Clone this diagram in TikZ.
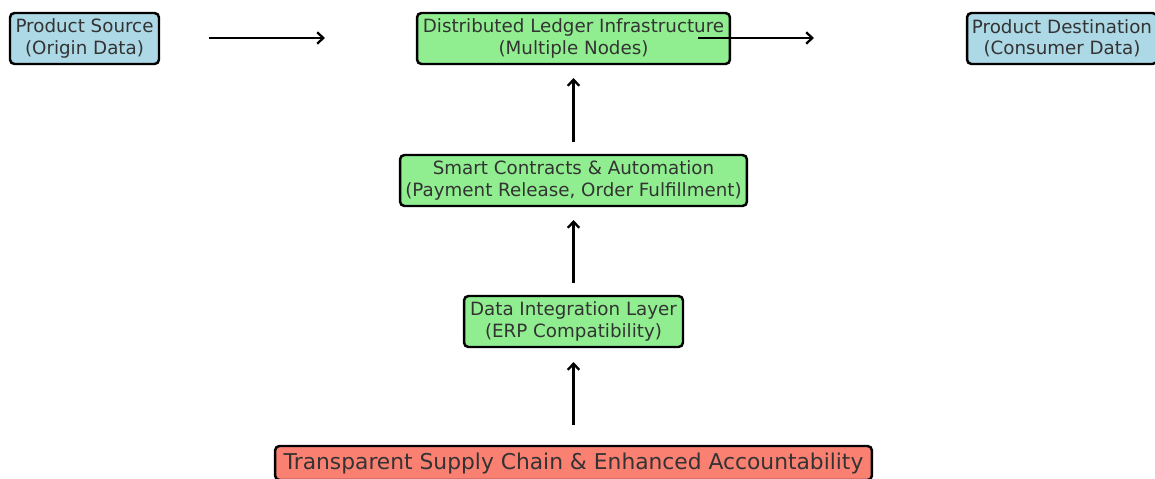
\documentclass[tikz,border=0pt]{standalone}
\usepackage{fontspec}
\setmainfont{DejaVu Sans}
\usetikzlibrary{arrows.meta}
\definecolor{srcblue}{HTML}{ADD8E6}
\definecolor{ledgergreen}{HTML}{90EE90}
\definecolor{outsalmon}{HTML}{FA8072}
\tikzset{
  box/.style={draw=black, line width=1.4pt, rounded corners=2.5pt, align=center,
    text=black!80, font=\fontsize{10.4}{12.2}\selectfont, inner sep=0pt, minimum height=1.02cm},
  flow/.style={-{Straight Barb[length=3.5pt,width=6.5pt,line width=1.3pt]}, line width=1.3pt},
}
\begin{document}
\begin{tikzpicture}
    \def\x{0.02}
    \def\y{-0.02}
    \useasboundingbox (0,0) rectangle (1155*\x, 478*\y);
    \clip (0,0) rectangle (1155*\x, 478*\y);
    % boxes
    \node[box, fill=srcblue, minimum width=2.98cm] (Src) at (84.5*\x, 38.5*\y) {Product Source\\(Origin Data)};
    \node[box, fill=ledgergreen, minimum width=6.26cm] (Ledger) at (573.5*\x, 38.5*\y) {Distributed Ledger Infrastructure\\(Multiple Nodes)};
    \node[box, fill=srcblue, minimum width=3.8cm] (Dest) at (1062*\x, 38.5*\y) {Product Destination\\(Consumer Data)};
    \node[box, fill=ledgergreen, minimum width=6.94cm] (Smart) at (573.5*\x, 180.5*\y) {Smart Contracts \& Automation\\(Payment Release, Order Fulfillment)};
    \node[box, fill=ledgergreen, minimum width=4.38cm] (Integ) at (573.5*\x, 321.5*\y) {Data Integration Layer\\(ERP Compatibility)};
    \node[box, fill=outsalmon, minimum width=11.94cm, minimum height=0.68cm,
      font=\fontsize{12.4}{14.8}\selectfont] (Result) at (573.5*\x, 463*\y) {Transparent Supply Chain \& Enhanced Accountability};
    % free arrows
    \coordinate (A0_s) at (209*\x, 38*\y);
    \coordinate (A0_e) at (325*\x, 38*\y);
    \coordinate (A1_s) at (698*\x, 38*\y);
    \coordinate (A1_e) at (814*\x, 38*\y);
    \coordinate (B0_s) at (573.5*\x, 142*\y);
    \coordinate (B0_e) at (573.5*\x, 78*\y);
    \coordinate (B1_s) at (573.5*\x, 283*\y);
    \coordinate (B1_e) at (573.5*\x, 220*\y);
    \coordinate (B2_s) at (573.5*\x, 425*\y);
    \coordinate (B2_e) at (573.5*\x, 362*\y);
    \path (A0_s) edge [flow] (A0_e);
    \path (A1_s) edge [flow] (A1_e);
    \path (B0_s) edge [flow] (B0_e);
    \path (B1_s) edge [flow] (B1_e);
    \path (B2_s) edge [flow] (B2_e);
\end{tikzpicture}
\end{document}
